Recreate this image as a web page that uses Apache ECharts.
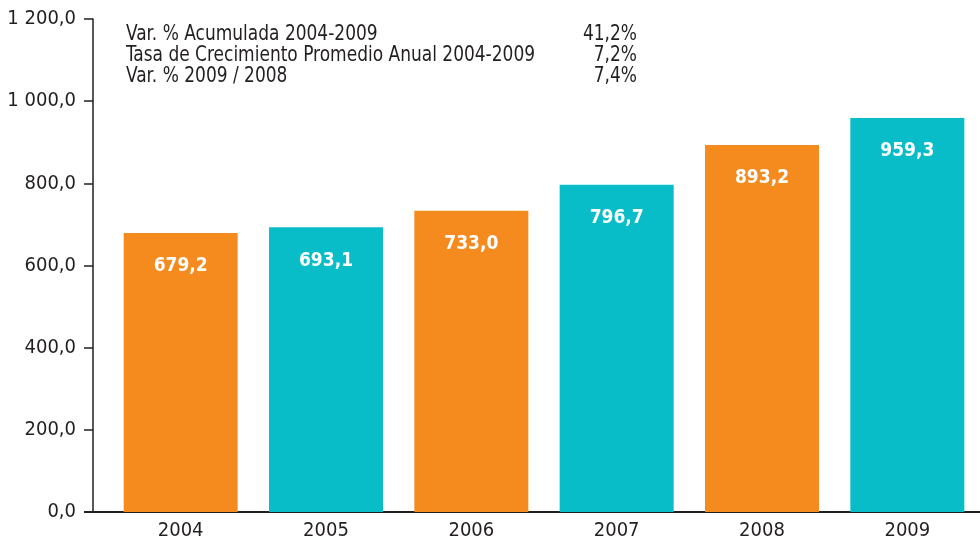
<!DOCTYPE html>
<html>
<head>
<meta charset="utf-8">
<script src="https://cdn.jsdelivr.net/npm/echarts@6/dist/echarts.min.js"></script>
<style>
  html, body { margin: 0; padding: 0; background: #fff; }
  #chart { width: 980px; height: 545px; }
</style>
</head>
<body>
<div id="chart"></div>
<script>
(function() {
  var years = ['2004', '2005', '2006', '2007', '2008', '2009'];
  var values = [679.2, 693.1, 733.0, 796.7, 893.2, 959.3];
  var barColors = ['#F58B1F', '#08BCC8'];
  var statLabels = ['Var. % Acumulada 2004-2009', 'Tasa de Crecimiento Promedio Anual 2004-2009', 'Var. % 2009 / 2008'];
  var statValues = ['41,2%', '7,2%', '7,4%'];

  var font = '"DejaVu Sans Condensed", "Liberation Sans Narrow", sans-serif';
  var ink = '#231F20';

  function fmt(v) {
    var s = v.toFixed(1).replace('.', ',');
    var parts = s.split(',');
    parts[0] = parts[0].replace(/\B(?=(\d{3})+(?!\d))/g, ' ');
    return parts.join(',');
  }

  var graphics = [];
  statLabels.forEach(function(t, i) {
    graphics.push({
      type: 'text', x: 126, y: 23 + i * 21, scaleX: 0.86,
      style: { text: t, fill: ink, fontSize: 22, fontFamily: font, align: 'left', verticalAlign: 'top' }
    });
    graphics.push({
      type: 'text', x: 637, y: 23 + i * 21, scaleX: 0.86,
      style: { text: statValues[i], fill: ink, fontSize: 22, fontFamily: font, align: 'right', verticalAlign: 'top' }
    });
  });
  // baseline continues left under the y axis
  graphics.push({
    type: 'line', z: 100,
    shape: { x1: 84, y1: 512, x2: 110, y2: 512 },
    style: { stroke: ink, lineWidth: 2 }
  });

  var chart = echarts.init(document.getElementById('chart'), null, { renderer: 'canvas' });
  chart.setOption({
    animation: false,
    grid: { left: 108, right: 0, top: 19, bottom: 33, containLabel: false },
    xAxis: {
      type: 'category',
      data: years,
      axisLine: { lineStyle: { color: ink, width: 2 } },
      axisTick: { show: false },
      axisLabel: { color: ink, fontSize: 20, fontFamily: font, margin: 9 }
    },
    yAxis: {
      type: 'value',
      min: 0, max: 1200, interval: 200,
      offset: 15,
      axisLine: { show: true, lineStyle: { color: ink, width: 1.5 } },
      axisTick: { show: true, length: 9, lineStyle: { color: ink, width: 1.5 } },
      axisLabel: { color: ink, fontSize: 20, fontFamily: font, margin: 17, formatter: fmt },
      splitLine: { show: false }
    },
    series: [{
      type: 'bar',
      barWidth: 114,
      data: values.map(function(v, i) {
        return { value: v, itemStyle: { color: barColors[i % 2] } };
      }),
      label: {
        show: true,
        position: 'insideTop',
        distance: 24,
        color: '#fff',
        fontSize: 19,
        fontWeight: 'bold',
        fontFamily: font,
        formatter: function(p) { return fmt(p.value); }
      }
    }],
    graphic: graphics
  });
  window.addEventListener('resize', function() { chart.resize(); });
})();
</script>
</body>
</html>
